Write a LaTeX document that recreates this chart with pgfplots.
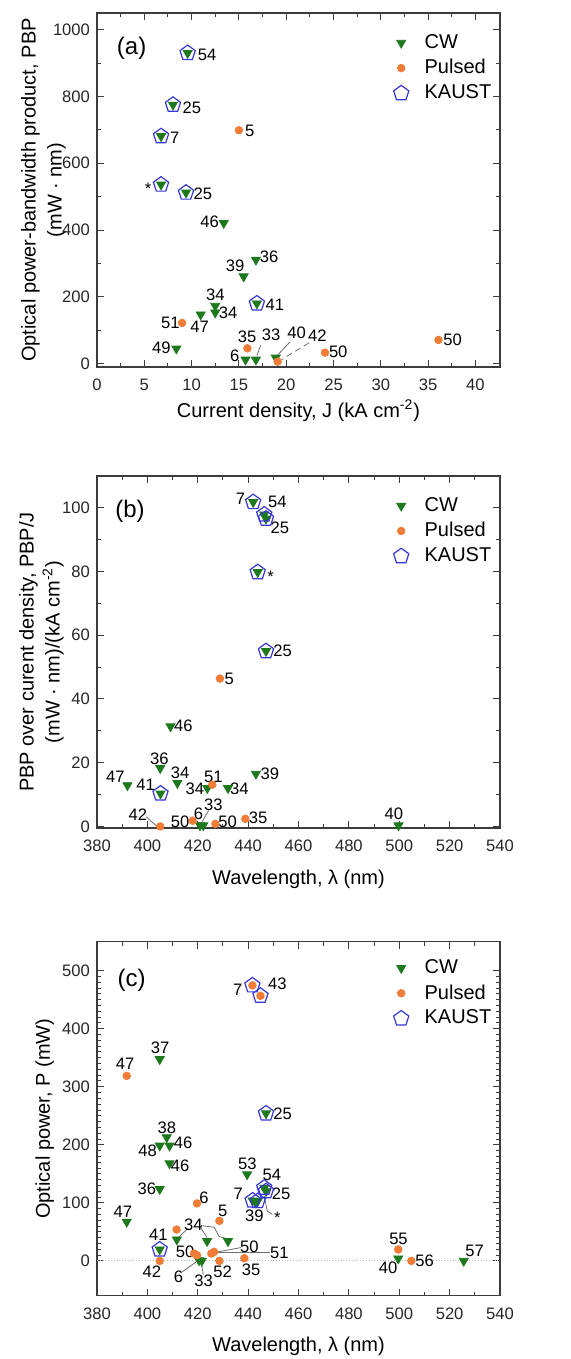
\documentclass[border=0pt]{standalone}
\usepackage{fontspec}
\setmainfont{Liberation Sans}
\usepackage{pgfplots}
\pgfplotsset{compat=1.18}
\definecolor{cwcol}{RGB}{30,120,30}
\definecolor{pucol}{RGB}{240,125,55}
\definecolor{kacol}{RGB}{55,55,215}
\definecolor{axcol}{RGB}{60,60,60}
\definecolor{leadcol}{RGB}{110,110,110}
\newcommand\lf{\fontsize{8.3}{10}\selectfont}
\tikzset{lead/.style={leadcol, line width=0.4pt}}

\pgfplotsset{
  panel/.style={
    scale only axis, width=201.5pt,
    axis line style={axcol, line width=0.6pt},
    every tick/.style={axcol, line width=0.5pt},
    major tick length=3.5pt, minor tick length=2pt,
    tick align=inside, xtick pos=both, ytick pos=both,
    ticklabel style={font=\lf, text=black!85},
    xticklabel style={yshift=-2.5pt},
    /pgf/number format/assume math mode=true,
    /pgf/number format/1000 sep={},
    label style={font=\fontsize{10}{13}\selectfont},
    ylabel style={align=center, anchor=south},
    xlabel style={anchor=base},
    legend style={draw=none, fill=none, font=\fontsize{10}{12}\selectfont, row sep=0pt, inner sep=0pt},
    legend cell align=left,
    legend image code/.code={\path[draw=none, fill=none] (2.4pt,-2pt) rectangle (14.7pt,2pt);
      \draw[mark repeat=2,mark phase=2,##1] plot coordinates {(0pt,0pt)(5pt,0pt)(10pt,0pt)};},
    minor tick num=1,
  },
  cw/.style={only marks, mark=triangle*, mark size=2.6pt, mark options={rotate=180, fill=cwcol, draw=cwcol}},
  pu/.style={only marks, mark=*, mark size=1.9pt, mark options={fill=pucol, draw=pucol}},
  ka/.style={only marks, mark=pentagon, mark size=4pt, mark options={draw=kacol, line width=0.6pt, fill=none}},
}

\begin{document}
\begin{tikzpicture}
\useasboundingbox (0,0) rectangle (285pt,-679.5pt);

% ---------- (a) ----------
\begin{axis}[panel, at={(48.5pt,-6.5pt)}, anchor=north west, height=177pt,
  xmin=0, xmax=42.6, ymin=-10, ymax=1050,
  xtick={0,5,...,40}, ytick={0,200,...,1000},
  xlabel={Current density, J (kA cm\textsuperscript{-2})},
  ylabel={Optical power-bandwidth product, PBP\\(mW · nm)},
  xlabel style={at={(axis description cs:0.5,0)}, yshift=-25pt},
  ylabel style={at={(axis description cs:-0.06,0.5)}},
  legend style={at={(axis description cs:0.735,0.952)}, anchor=north west},
]
\addplot[cw] coordinates {(9.58,930) (8.03,775) (6.77,681) (6.77,536) (9.41,512)
  (13.4,421) (16.8,311) (15.5,261) (12.5,173) (12.5,153) (16.9,180) (10.96,147)
  (8.39,45) (15.7,12) (16.8,12) (18.9,18)};
\addplot[pu] coordinates {(15.0,699) (8.99,122) (15.9,46) (19.1,6) (24.1,33) (36.1,71)};
\addplot[ka] coordinates {(9.58,930) (8.03,775) (6.77,681) (6.77,536) (9.41,512) (16.9,180)};
\legend{CW, Pulsed, KAUST}
\draw[lead] (axis cs:17.3,55) -- (axis cs:16.9,24);
\draw[lead] (axis cs:20.4,65) -- (axis cs:19.1,26);
\draw[lead, densely dashed] (axis cs:22.4,62) -- (axis cs:19.5,12);
\node[font=\lf] at (axis cs:11.63,926) {54};
\node[font=\lf] at (axis cs:10.04,766) {25};
\node[font=\lf] at (axis cs:8.21,677) {7};
\node[font=\lf] at (axis cs:5.4,525) {*};
\node[font=\lf] at (axis cs:11.2,509) {25};
\node[font=\lf] at (axis cs:16.14,696) {5};
\node[font=\lf] at (axis cs:11.9,424) {46};
\node[font=\lf] at (axis cs:18.2,321) {36};
\node[font=\lf] at (axis cs:14.6,292) {39};
\node[font=\lf] at (axis cs:12.5,205) {34};
\node[font=\lf] at (axis cs:18.8,175) {41};
\node[font=\lf] at (axis cs:13.85,152) {34};
\node[font=\lf] at (axis cs:10.85,110) {47};
\node[font=\lf] at (axis cs:7.75,122) {51};
\node[font=\lf] at (axis cs:6.8,47) {49};
\node[font=\lf] at (axis cs:15.86,80) {35};
\node[font=\lf] at (axis cs:18.4,87) {33};
\node[font=\lf] at (axis cs:14.55,25) {6};
\node[font=\lf] at (axis cs:21.1,93) {40};
\node[font=\lf] at (axis cs:23.3,85) {42};
\node[font=\lf] at (axis cs:25.5,35) {50};
\node[font=\lf] at (axis cs:37.6,72) {50};
\node[font=\fontsize{12}{14}\selectfont] at (axis description cs:0.086,0.9) {(a)};
\end{axis}

% ---------- (b) ----------
\begin{axis}[panel, at={(48.5pt,-238pt)}, anchor=north west, height=176pt,
  xmin=380, xmax=540, ymin=-0.5, ymax=110,
  xtick={380,400,...,540}, ytick={0,20,...,100},
  xlabel={Wavelength, λ (nm)},
  ylabel={PBP over curent density, PBP/J\\(mW · nm)/(kA cm\textsuperscript{-2})},
  xlabel style={at={(axis description cs:0.5,0)}, yshift=-28pt},
  ylabel style={at={(axis description cs:-0.065,0.5)}},
  legend style={at={(axis description cs:0.735,0.952)}, anchor=north west},
]
\addplot[cw] coordinates {(442.0,101.8) (446.4,97.9) (447.1,96.6) (443.8,79.8) (447.1,55.0)
  (409.2,31.4) (405.1,18.3) (443.1,16.5) (392.1,12.9) (411.9,13.6) (405.2,10.3)
  (423.8,12.0) (432.0,12.0) (420.9,0.3) (422.2,0.3) (499.7,0.3)};
\addplot[pu] coordinates {(428.8,46.4) (425.8,13.1) (438.9,2.4) (418.0,1.8) (427.0,0.8) (405.1,0)};
\addplot[ka] coordinates {(442.0,101.8) (446.4,97.9) (447.1,96.6) (443.8,79.8) (447.1,55.0) (405.2,10.3)};
\legend{CW, Pulsed, KAUST}
\draw[lead] (axis cs:399.6,3.0) -- (axis cs:401.5,1.6) -- (axis cs:403.6,0.2);
\draw[lead] (axis cs:424.3,5.0) -- (axis cs:421.8,1.5);
\node[font=\lf] at (axis cs:437.0,102.8) {7};
\node[font=\lf] at (axis cs:451.6,101.8) {54};
\node[font=\lf] at (axis cs:452.6,93.7) {25};
\node[font=\lf] at (axis cs:448.9,78.3) {*};
\node[font=\lf] at (axis cs:453.7,55.0) {25};
\node[font=\lf] at (axis cs:432.5,46.4) {5};
\node[font=\lf] at (axis cs:414.3,31.7) {46};
\node[font=\lf] at (axis cs:404.8,21.3) {36};
\node[font=\lf] at (axis cs:448.6,16.5) {39};
\node[font=\lf] at (axis cs:387.3,15.5) {47};
\node[font=\lf] at (axis cs:399.3,13.1) {41};
\node[font=\lf] at (axis cs:413.0,16.8) {34};
\node[font=\lf] at (axis cs:418.9,11.7) {34};
\node[font=\lf] at (axis cs:426.2,15.7) {51};
\node[font=\lf] at (axis cs:436.5,11.8) {34};
\node[font=\lf] at (axis cs:426.2,6.8) {33};
\node[font=\lf] at (axis cs:420.3,4.0) {6};
\node[font=\lf] at (axis cs:444.0,2.6) {35};
\node[font=\lf] at (axis cs:413.0,1.3) {50};
\node[font=\lf] at (axis cs:431.9,1.6) {50};
\node[font=\lf] at (axis cs:396.2,3.7) {42};
\node[font=\lf] at (axis cs:497.9,3.9) {40};
\node[font=\fontsize{12}{14}\selectfont] at (axis description cs:0.082,0.899) {(b)};
\end{axis}

% ---------- (c) ----------
\begin{axis}[panel, at={(48.5pt,-470.85pt)}, anchor=north west, height=177pt,
  xmin=380, xmax=540, ymin=-60, ymax=550,
  xtick={380,400,...,540}, ytick={0,100,...,500},
  minor y tick num=9,
  xlabel={Wavelength, λ (nm)},
  ylabel={Optical power, P (mW)},
  xlabel style={at={(axis description cs:0.5,0)}, yshift=-28pt},
  ylabel style={at={(axis description cs:-0.089,0.5)}},
  legend style={at={(axis description cs:0.735,0.962)}, anchor=north west},
]
\addplot[gray!55, densely dotted, line width=0.4pt, forget plot] coordinates {(380,0) (540,0)};
\addplot[cw] coordinates {(404.9,347.5) (447.1,254) (407.7,212.9) (404.9,198.5) (408.8,198.5)
  (408.8,168) (439.6,149) (404.9,123.7) (446.4,126) (447.1,120) (441.8,104) (443.8,103)
  (443.1,100) (391.8,67.3) (411.7,36.8) (423.7,34) (432.0,34) (404.9,19.6)
  (420.5,1) (421.6,0) (499.6,4) (525.6,0)};
\addplot[pu] coordinates {(441.7,474.7) (444.9,456.8) (391.8,318.8) (419.7,99) (428.6,69)
  (411.6,54) (418.5,12.7) (419.7,9.8) (425.4,12.7) (426.5,15.5) (428.6,0) (438.5,4.6)
  (404.9,0) (499.6,19.6) (504.8,0)};
\addplot[ka] coordinates {(441.7,474.7) (444.9,456.8) (447.1,254) (446.4,126) (447.1,120)
  (441.8,104) (443.8,103) (404.9,19.6)};
\legend{CW, Pulsed, KAUST}
\draw[lead] (axis cs:416.2,56) -- (axis cs:412.4,41);
\draw[lead] (axis cs:421.2,57) -- (axis cs:423.7,40);
\draw[lead] (axis cs:421.2,61) -- (axis cs:426.5,58) -- (axis cs:428.5,42) -- (axis cs:431,39);
\draw[lead] (axis cs:413.8,-19) -- (axis cs:419.6,-1);
\draw[lead] (axis cs:422.2,-24) -- (axis cs:421.4,-3);
\draw[lead] (axis cs:437.2,23) -- (axis cs:427.3,15);
\draw[lead] (axis cs:448.6,13.8) -- (axis cs:427.5,13.8);
\draw[lead] (axis cs:449.6,80) -- (axis cs:447.6,86) -- (axis cs:446.4,112);
\node[font=\lf] at (axis cs:435.9,467) {7};
\node[font=\lf] at (axis cs:451.6,477) {43};
\node[font=\lf] at (axis cs:405.1,366.5) {37};
\node[font=\lf] at (axis cs:391.2,339.5) {47};
\node[font=\lf] at (axis cs:453.7,254) {25};
\node[font=\lf] at (axis cs:407.7,230) {38};
\node[font=\lf] at (axis cs:400.1,189) {48};
\node[font=\lf] at (axis cs:414.2,203.7) {46};
\node[font=\lf] at (axis cs:413.0,164.6) {46};
\node[font=\lf] at (axis cs:439.7,167) {53};
\node[font=\lf] at (axis cs:449.4,148) {54};
\node[font=\lf] at (axis cs:453.1,116) {25};
\node[font=\lf] at (axis cs:436.1,115) {7};
\node[font=\lf] at (axis cs:442.5,77) {39};
\node[font=\lf] at (axis cs:451.6,74) {*};
\node[font=\lf] at (axis cs:399.8,125) {36};
\node[font=\lf] at (axis cs:422.5,108.7) {6};
\node[font=\lf] at (axis cs:429.9,86.3) {5};
\node[font=\lf] at (axis cs:390.3,84.6) {47};
\node[font=\lf] at (axis cs:418.3,61.6) {34};
\node[font=\lf] at (axis cs:404.4,45.5) {41};
\node[font=\lf] at (axis cs:415.0,15.5) {50};
\node[font=\lf] at (axis cs:440.5,24.2) {50};
\node[font=\lf] at (axis cs:452.4,13.8) {51};
\node[font=\lf] at (axis cs:401.8,-17.8) {42};
\node[font=\lf] at (axis cs:412.4,-27.6) {6};
\node[font=\lf] at (axis cs:422.3,-34.5) {33};
\node[font=\lf] at (axis cs:429.9,-19) {52};
\node[font=\lf] at (axis cs:441.2,-16) {35};
\node[font=\lf] at (axis cs:499.7,38.5) {55};
\node[font=\lf] at (axis cs:495.6,-12) {40};
\node[font=\lf] at (axis cs:510.1,0) {56};
\node[font=\lf] at (axis cs:529.9,16.7) {57};
\node[font=\fontsize{12}{14}\selectfont] at (axis description cs:0.086,0.892) {(c)};
\end{axis}
\end{tikzpicture}
\end{document}
